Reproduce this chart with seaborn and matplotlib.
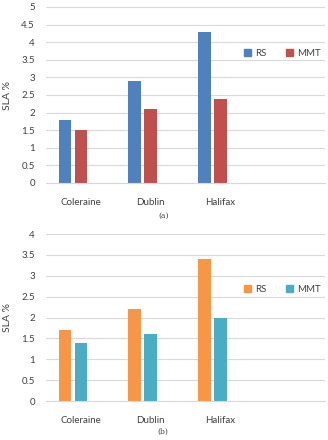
import matplotlib
matplotlib.use("Agg")
import matplotlib.pyplot as plt
import seaborn as sns
import pandas as pd
from matplotlib.patches import Patch

cities = ["Coleraine", "Dublin", "Halifax"]
series = ["RS", "MMT"]
rs_a = [1.8, 2.9, 4.3]
mmt_a = [1.5, 2.1, 2.4]
rs_b = [1.7, 2.2, 3.4]
mmt_b = [1.4, 1.6, 2.0]
yticks_a = [0, 0.5, 1, 1.5, 2, 2.5, 3, 3.5, 4, 4.5, 5]
yticks_b = [0, 0.5, 1, 1.5, 2, 2.5, 3, 3.5, 4]
colors_a = ["#4F81BD", "#C0504D"]
colors_b = ["#F79646", "#4BACC6"]

sns.set_theme(style="white")
plt.rcParams["font.family"] = ["Lato", "DejaVu Sans"]

fig = plt.figure(figsize=(3.28, 4.40), dpi=100)
W, H = 328, 440
ax1 = fig.add_axes([46 / W, 1 - 183 / H, 279 / W, 176 / H])
ax2 = fig.add_axes([46 / W, 1 - 401 / H, 279 / W, 167 / H])

order = cities + [" "]
hue_order = series + ["_empty"]


def draw(ax, rs, mmt, colors, yticks, leg_y, cap, caption):
    df = pd.DataFrame({
        "city": cities * 2,
        "series": ["RS"] * 3 + ["MMT"] * 3,
        "val": rs + mmt,
    })
    pal = {"RS": colors[0], "MMT": colors[1], "_empty": "white"}
    sns.barplot(data=df, x="city", y="val", hue="series", order=order,
                hue_order=hue_order, palette=pal, width=0.69, gap=0.22,
                saturation=1, linewidth=0, ax=ax, legend=False, errorbar=None)
    ax.set_ylim(0, yticks[-1])
    ax.set_xlim(-0.5, 3.5)
    ax.set_yticks(yticks)
    ax.set_yticklabels([("%g" % t) for t in yticks], fontsize=7, color="#404040")
    ax.set_xticks(range(3))
    ax.set_xticklabels(cities, fontsize=7, color="#404040")
    ax.tick_params(axis="y", length=0, pad=8)
    ax.tick_params(axis="x", length=0, pad=11)
    ax.yaxis.grid(True, color="#D9D9D9", linewidth=0.8)
    ax.set_axisbelow(True)
    for s in ["top", "right", "left"]:
        ax.spines[s].set_visible(False)
    ax.spines["bottom"].set_color("#D9D9D9")
    ax.spines["bottom"].set_linewidth(0.8)
    ax.set_xlabel("")
    ax.set_ylabel("SLA %", fontsize=7.5, color="#404040", labelpad=7)
    handles = [Patch(color=colors[0], label="RS"), Patch(color=colors[1], label="MMT")]
    ax.legend(handles=handles, ncol=2, frameon=False, fontsize=7,
              loc="upper left", bbox_to_anchor=(0.68, leg_y),
              handlelength=0.7, handleheight=0.7, handletextpad=0.4,
              columnspacing=2.0, labelcolor="#404040")
    ax.text(0.42, cap, caption, transform=ax.transAxes,
            ha="center", va="center", fontsize=5.5, family="DejaVu Serif",
            color="#404040")


draw(ax1, rs_a, mmt_a, colors_a, yticks_a, 0.81, -0.185, "(a)")
draw(ax2, rs_b, mmt_b, colors_b, yticks_b, 0.75, -0.185, "(b)")

fig.savefig("out.png", dpi=100)
